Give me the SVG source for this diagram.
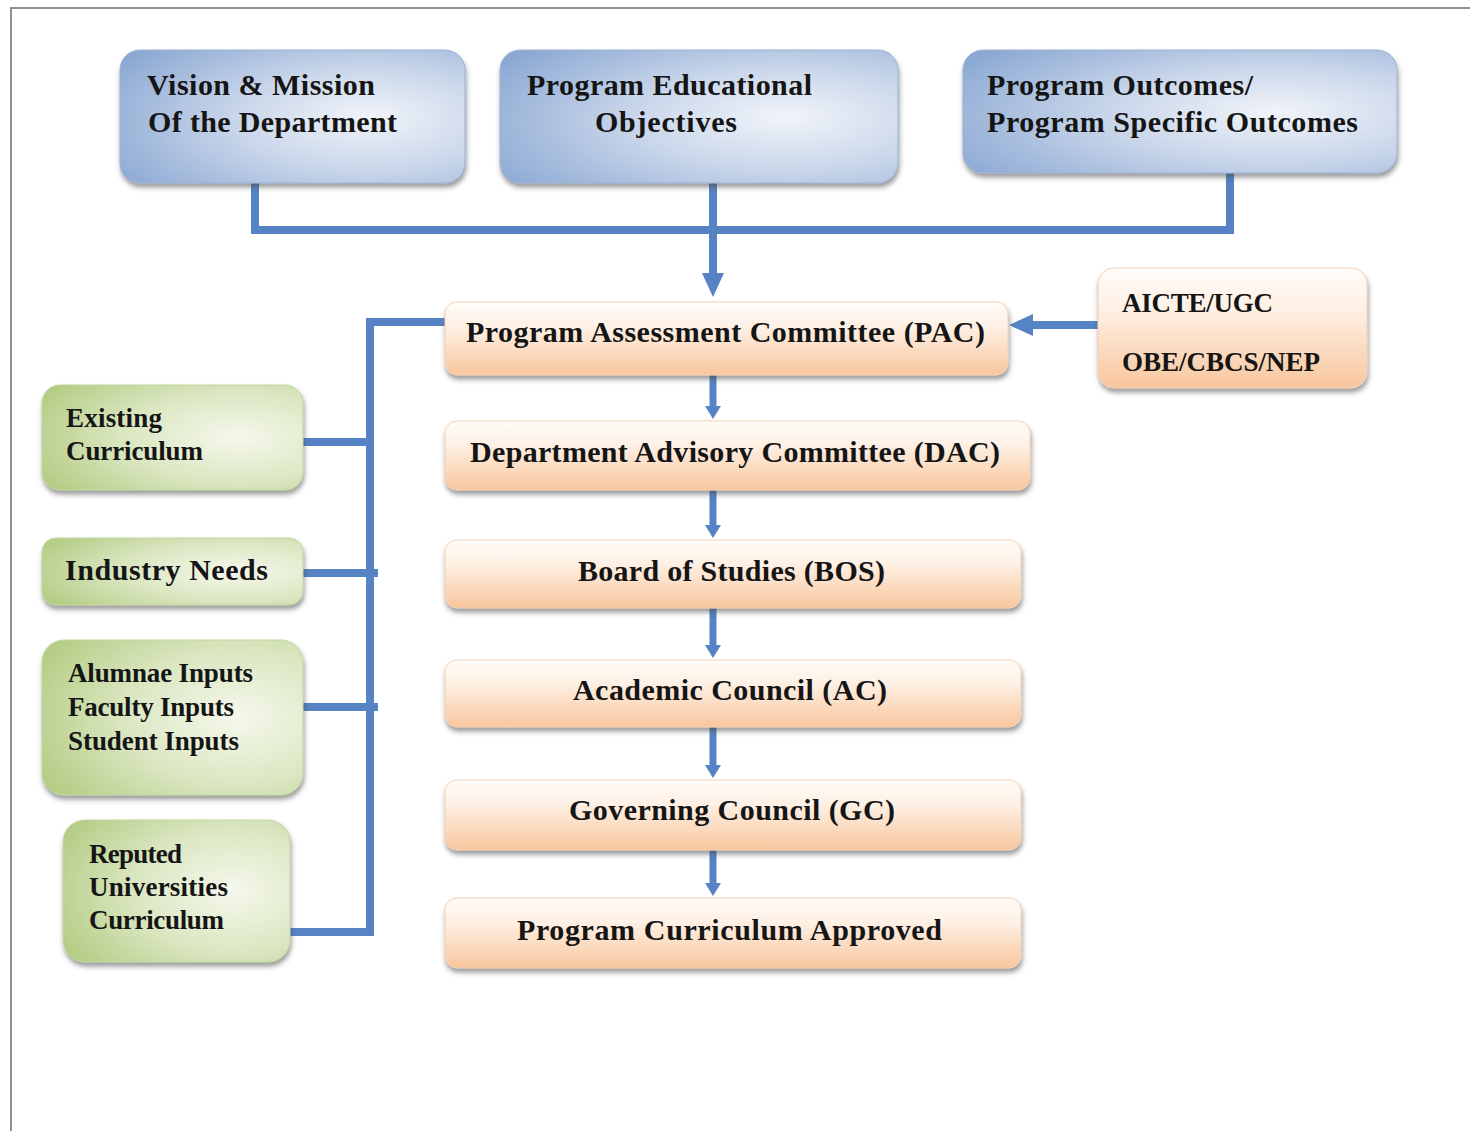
<svg xmlns="http://www.w3.org/2000/svg" width="1470" height="1131" viewBox="0 0 1470 1131">
<defs>
<radialGradient id="gBlue" cx="0.72" cy="0.55" r="0.85" fx="0.72" fy="0.5">
<stop offset="0" stop-color="#f1f4f9"/>
<stop offset="0.45" stop-color="#c9d6ea"/>
<stop offset="1" stop-color="#8ba8d3"/>
</radialGradient>
<radialGradient id="gGreen" cx="0.75" cy="0.5" r="0.85">
<stop offset="0" stop-color="#f5f8ec"/>
<stop offset="0.5" stop-color="#dbe7c2"/>
<stop offset="1" stop-color="#b4cc84"/>
</radialGradient>
<linearGradient id="gOrange" x1="0" y1="0" x2="0" y2="1">
<stop offset="0" stop-color="#fffcf9"/>
<stop offset="0.35" stop-color="#fef0e4"/>
<stop offset="1" stop-color="#f8c69d"/>
</linearGradient>
<filter id="sh" x="-5%" y="-10%" width="112%" height="130%">
<feDropShadow dx="1" dy="4" stdDeviation="2.5" flood-color="#4a4a4a" flood-opacity="0.55"/>
</filter>
<marker id="ah" markerUnits="userSpaceOnUse" markerWidth="26" markerHeight="24" refX="10" refY="11" orient="auto">
<path d="M0,0 L24,11 L0,22 Z" fill="#5583c4"/>
</marker>
<marker id="ahs" markerUnits="userSpaceOnUse" markerWidth="15" markerHeight="18" refX="6" refY="8" orient="auto">
<path d="M0,0 L13,8 L0,16 Z" fill="#5583c4"/>
</marker>
</defs>
<style>
.t{font-family:"Liberation Serif","Times New Roman",serif;font-weight:bold;font-size:30px;fill:#151515}
.s{font-size:27px}
.blue{fill:url(#gBlue);stroke:#9db3d6;stroke-width:1;filter:url(#sh)}
.green{fill:url(#gGreen);stroke:#c3d6a2;stroke-width:1;filter:url(#sh)}
.orange{fill:url(#gOrange);stroke:#f3d2b8;stroke-width:1;filter:url(#sh)}
.c{fill:none;stroke:#5583c4;stroke-width:8}
.cs{fill:none;stroke:#5583c4;stroke-width:7}
</style>
<rect width="1470" height="1131" fill="#ffffff"/>
<path d="M11,1131 V8 H1470" fill="none" stroke="#8f8f8f" stroke-width="2"/>

<g id="connectors">
<path class="c" d="M255,183 V230 H1230 V173"/>
<path class="c" d="M713,183 V283" marker-end="url(#ah)"/>
<path class="c" d="M1098,325 H1023" marker-end="url(#ah)"/>
<path class="cs" d="M713,375 V412" marker-end="url(#ahs)"/>
<path class="cs" d="M713,490 V531" marker-end="url(#ahs)"/>
<path class="cs" d="M713,608 V651" marker-end="url(#ahs)"/>
<path class="cs" d="M713,727 V771" marker-end="url(#ahs)"/>
<path class="cs" d="M713,850 V889" marker-end="url(#ahs)"/>
<path class="c" d="M445,322 H370 V932 H290"/>
<path class="c" d="M303,442 H370"/>
<path class="c" d="M303,573 H378"/>
<path class="c" d="M300,707 H378"/>
</g>

<g id="vision">
<rect class="blue" x="120" y="50" width="345" height="133" rx="20"/>
<text class="t" x="147" y="95" textLength="228" lengthAdjust="spacing">Vision &amp; Mission</text>
<text class="t" x="148" y="132" textLength="249" lengthAdjust="spacing">Of the Department</text>
</g>
<g id="peo">
<rect class="blue" x="500" y="50" width="398" height="133" rx="20"/>
<text class="t" x="527" y="95" textLength="285" lengthAdjust="spacing">Program Educational</text>
<text class="t" x="595" y="132" textLength="142" lengthAdjust="spacing">Objectives</text>
</g>
<g id="po">
<rect class="blue" x="963" y="50" width="434" height="123" rx="20"/>
<text class="t" x="987" y="95" textLength="266" lengthAdjust="spacing">Program Outcomes/</text>
<text class="t" x="987" y="132" textLength="371" lengthAdjust="spacing">Program Specific Outcomes</text>
</g>

<g id="aicte">
<rect class="orange" x="1098" y="268" width="269" height="120" rx="16"/>
<text class="t s" x="1122" y="312" textLength="151" lengthAdjust="spacing">AICTE/UGC</text>
<text class="t s" x="1122" y="371" textLength="198" lengthAdjust="spacing">OBE/CBCS/NEP</text>
</g>

<g id="pac">
<rect class="orange" x="445" y="302" width="563" height="73" rx="12"/>
<text class="t" x="466" y="342" textLength="519" lengthAdjust="spacing">Program Assessment Committee (PAC)</text>
</g>
<g id="dac">
<rect class="orange" x="445" y="421" width="585" height="69" rx="12"/>
<text class="t" x="470" y="462" textLength="530" lengthAdjust="spacing">Department Advisory Committee (DAC)</text>
</g>
<g id="bos">
<rect class="orange" x="445" y="540" width="576" height="68" rx="12"/>
<text class="t" x="578" y="581" textLength="307" lengthAdjust="spacing">Board of Studies (BOS)</text>
</g>
<g id="ac">
<rect class="orange" x="445" y="660" width="576" height="67" rx="12"/>
<text class="t" x="573" y="700" textLength="314" lengthAdjust="spacing">Academic Council (AC)</text>
</g>
<g id="gc">
<rect class="orange" x="445" y="780" width="576" height="70" rx="12"/>
<text class="t" x="569" y="820" textLength="326" lengthAdjust="spacing">Governing Council (GC)</text>
</g>
<g id="approved">
<rect class="orange" x="445" y="898" width="576" height="70" rx="12"/>
<text class="t" x="517" y="940" textLength="425" lengthAdjust="spacing">Program Curriculum Approved</text>
</g>

<g id="existing">
<rect class="green" x="42" y="385" width="261" height="105" rx="18"/>
<text class="t s" x="66" y="427" textLength="96" lengthAdjust="spacing">Existing</text>
<text class="t s" x="66" y="460" textLength="137" lengthAdjust="spacing">Curriculum</text>
</g>
<g id="industry">
<rect class="green" x="42" y="538" width="261" height="67" rx="14"/>
<text class="t" x="65" y="580" textLength="203" lengthAdjust="spacing">Industry Needs</text>
</g>
<g id="inputs">
<rect class="green" x="42" y="640" width="261" height="155" rx="22"/>
<text class="t s" x="68" y="682" textLength="185" lengthAdjust="spacing">Alumnae Inputs</text>
<text class="t s" x="68" y="716" textLength="166" lengthAdjust="spacing">Faculty Inputs</text>
<text class="t s" x="68" y="750" textLength="171" lengthAdjust="spacing">Student Inputs</text>
</g>
<g id="reputed">
<rect class="green" x="63" y="820" width="227" height="142" rx="22"/>
<text class="t s" x="89" y="863" textLength="93" lengthAdjust="spacing">Reputed</text>
<text class="t s" x="89" y="896" textLength="139" lengthAdjust="spacing">Universities</text>
<text class="t s" x="89" y="929" textLength="135" lengthAdjust="spacing">Curriculum</text>
</g>
</svg>
